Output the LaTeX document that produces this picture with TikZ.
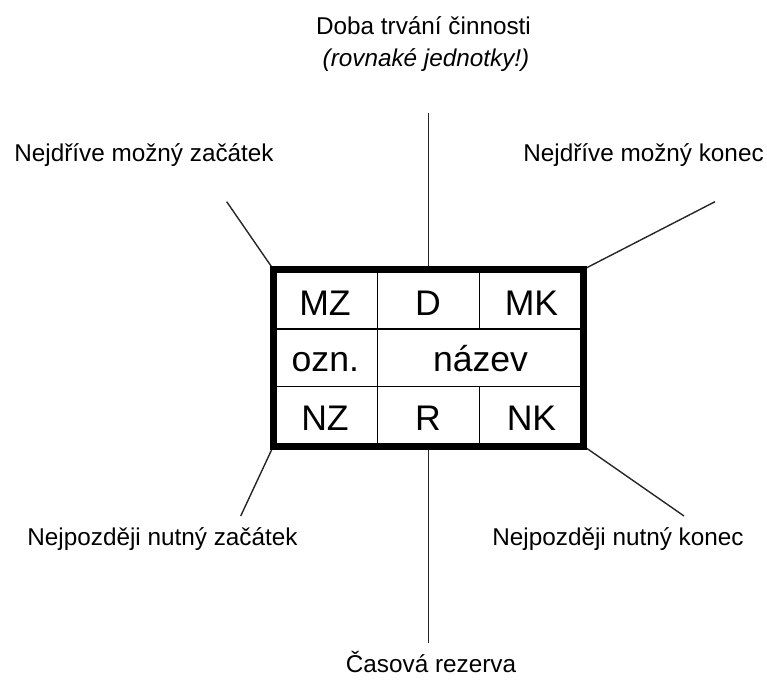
\documentclass[tikz,border=0pt]{standalone}
\usepackage{fontspec}
\setmainfont{Liberation Sans}
\begin{document}
\begin{tikzpicture}[x=1pt,y=-1pt,
  lbl/.style={anchor=base,inner sep=0pt,font=\fontsize{24.3}{29}\selectfont},
  cell/.style={anchor=base,inner sep=0pt,font=\fontsize{35.6}{42}\selectfont},
  leader/.style={line width=1.4pt,black!85},
  gridline/.style={line width=1.3pt},
  frame/.style={line width=7pt}]
\useasboundingbox (0,0) rectangle (767,679);

% activity box (outline drawn last)
\node[minimum width=310pt,minimum height=176.5pt,inner sep=0pt] (box) at (428.5,357.75) {};

% free ends of the leader lines
\coordinate (tl) at (226.7,201.7);
\coordinate (tr) at (715,201.7);
\coordinate (bl) at (240.7,516);
\coordinate (br) at (684,516);
\coordinate (tp) at (428.5,113);
\coordinate (bt) at (428.5,643);

\draw[leader] (tl) -- (box.north west);
\draw[leader] (tr) -- (box.north east);
\draw[leader] (bl) -- (box.south west);
\draw[leader] (br) -- (box.south east);
\draw[leader] (tp) -- (box.north);
\draw[leader] (bt) -- (box.south);

% inner grid
\draw[gridline] (377.3,269.5) -- (377.3,446);
\draw[gridline] (479.3,269.5) -- (479.3,329);
\draw[gridline] (479.3,386.7) -- (479.3,446);
\draw[gridline] (273.5,329) -- (583.5,329);
\draw[gridline] (273.5,386.7) -- (583.5,386.7);

\draw[frame] (box.north west) rectangle (box.south east);

% cell texts
\node[cell] (mz) at (325,315) {MZ};
\node[cell] (d) at (428,315) {D};
\node[cell] (mk) at (531.5,315) {MK};
\node[cell] (ozn) at (325.3,371.7) {ozn.};
\node[cell] (nazev) at (480.5,371.7) {název};
\node[cell] (nz) at (325,430) {NZ};
\node[cell] (r) at (428,430) {R};
\node[cell] (nk) at (531.5,430) {NK};

% labels
\node[lbl] (dur) at (423.5,35) {Doba trvání činnosti};
\node[lbl,font=\fontsize{24.3}{29}\selectfont\itshape] (units) at (426,67) {(rovnaké jednotky!)};
\node[lbl] (mzl) at (144,161.7) {Nejdříve možný začátek};
\node[lbl] (mkl) at (643.5,161.7) {Nejdříve možný konec};
\node[lbl] (nzl) at (162.5,545) {Nejpozději nutný začátek};
\node[lbl] (nkl) at (618,545) {Nejpozději nutný konec};
\node[lbl] (rl) at (431,672.7) {Časová rezerva};
\end{tikzpicture}
\end{document}
